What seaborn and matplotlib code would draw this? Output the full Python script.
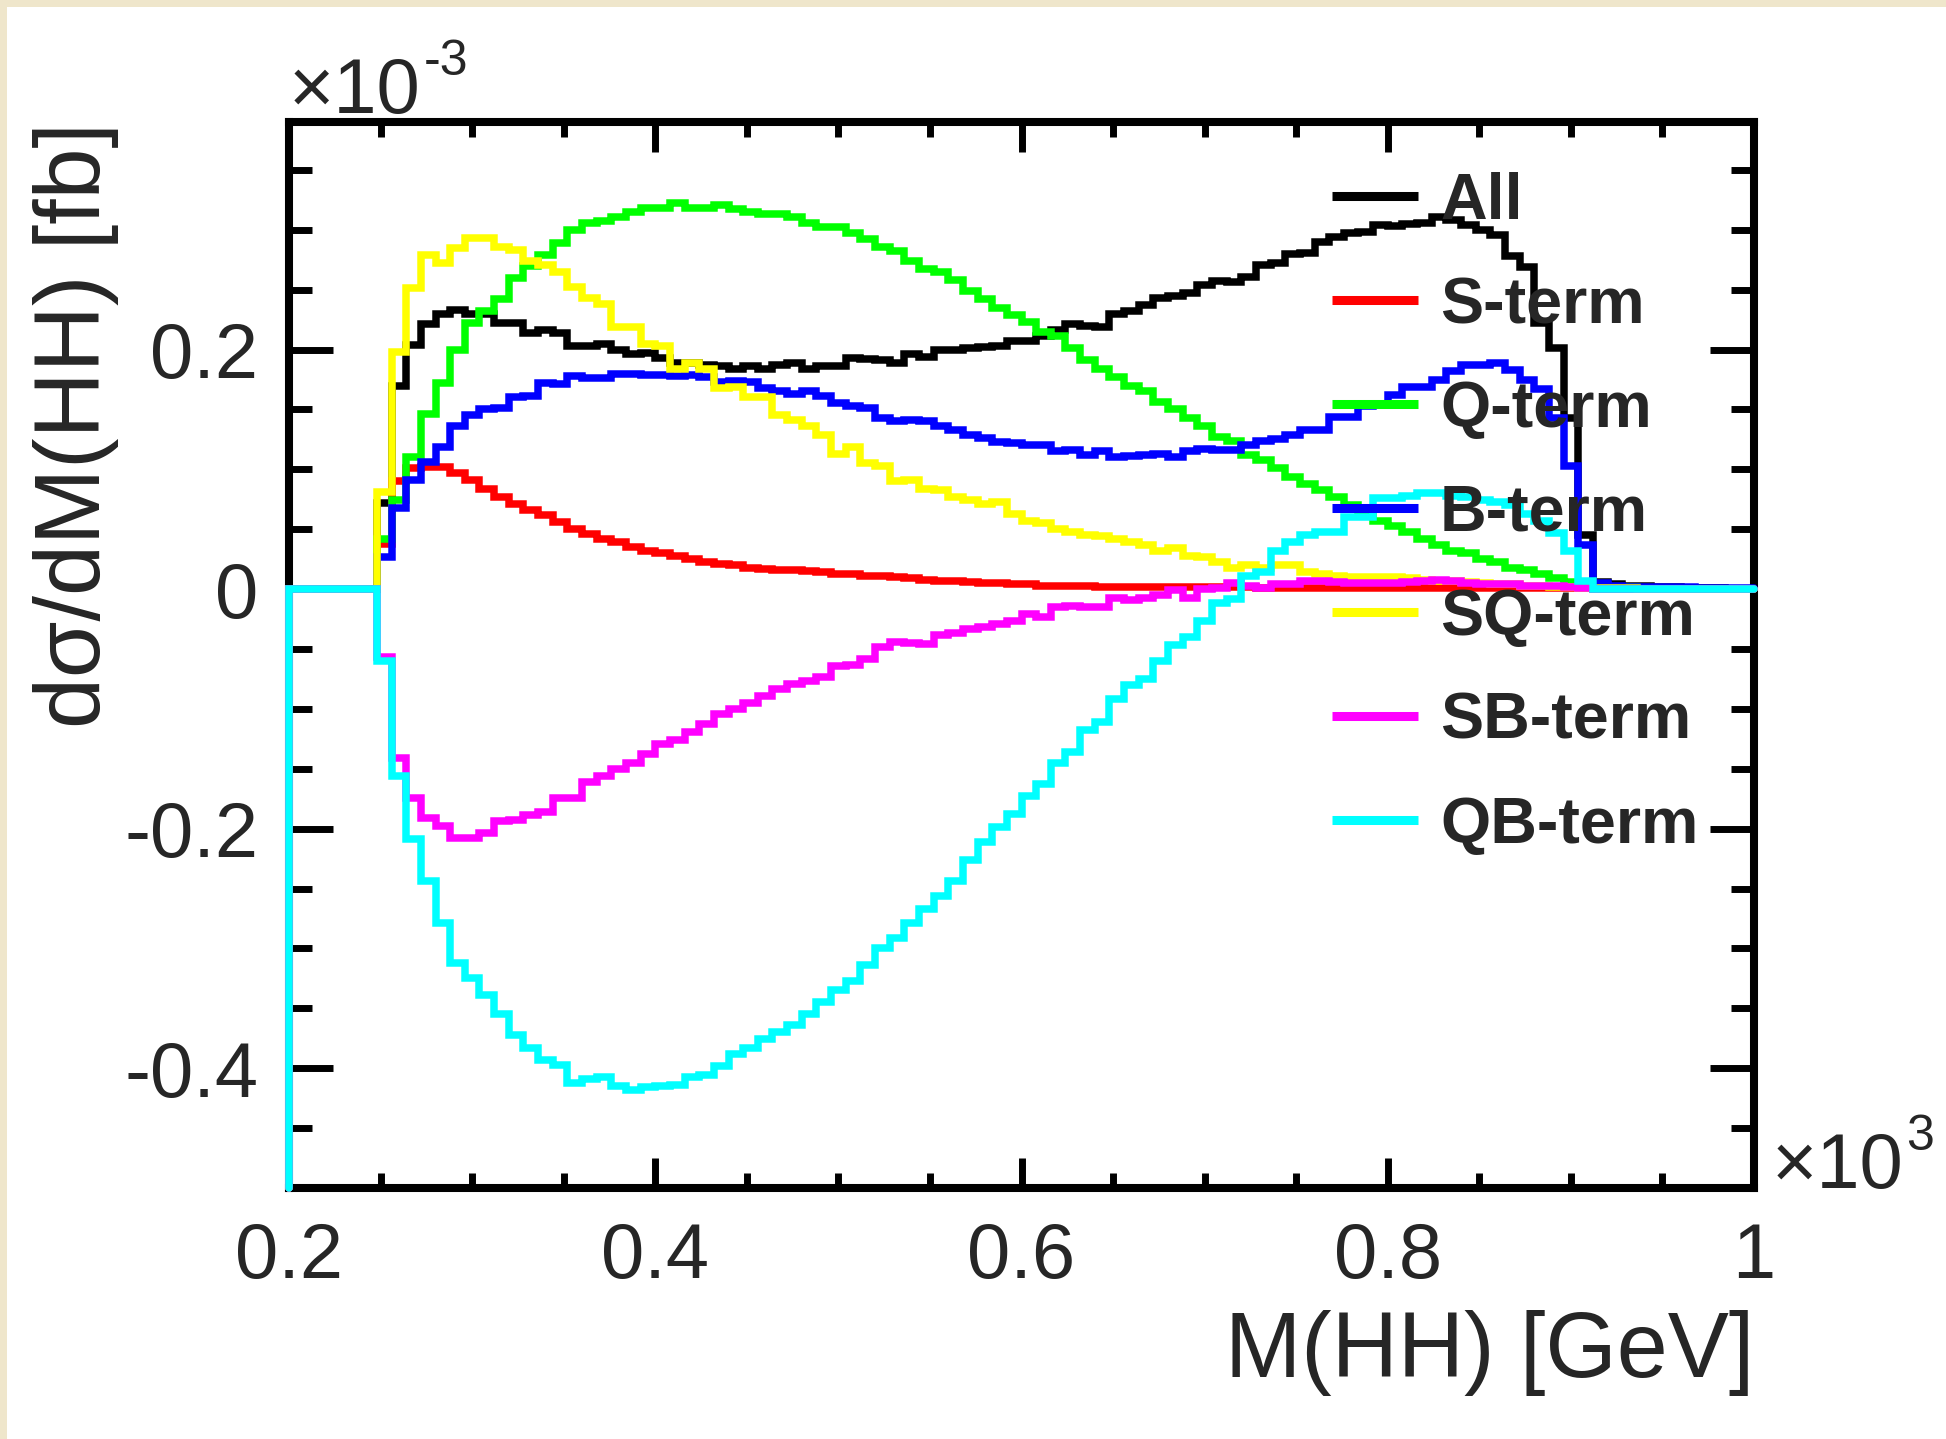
import numpy as np
import pandas as pd
import matplotlib
matplotlib.use("Agg")
import matplotlib.pyplot as plt
from matplotlib.patches import Rectangle
from matplotlib.lines import Line2D
from matplotlib.ticker import MultipleLocator, FixedLocator, FixedFormatter
import seaborn as sns

# Binning: 100 bins of 8 GeV from 200 to 1000 GeV, axis in units of 10^3 GeV
x_low, x_high, n_bins = 0.2, 1.0, 100
y_low, y_high = -0.5, 0.39

x_ticks = [0.2, 0.4, 0.6, 0.8, 1.0]
x_tick_labels = ["0.2", "0.4", "0.6", "0.8", "1"]
y_ticks = [-0.4, -0.2, 0.0, 0.2]
y_tick_labels = ["-0.4", "-0.2", "0", "0.2"]

term_names = ["All", "S-term", "Q-term", "B-term", "SQ-term", "SB-term", "QB-term"]
term_colors = ["#000000", "#ff0000", "#00ff00", "#0000ff", "#ffff00", "#ff00ff", "#00ffff"]

# dsigma/dM(HH) per bin, units of 10^-3 fb
all_term = [0, 0, 0, 0, 0, 0,
            0.072, 0.170, 0.204, 0.221, 0.230, 0.233, 0.230, 0.230, 0.222, 0.222,
            0.214, 0.216, 0.214, 0.203, 0.203, 0.205, 0.200, 0.196, 0.197, 0.193,
            0.189, 0.189, 0.187, 0.186, 0.184, 0.186, 0.184, 0.187, 0.189, 0.184,
            0.186, 0.186, 0.193, 0.192, 0.191, 0.189, 0.196, 0.194, 0.200, 0.200,
            0.201, 0.202, 0.203, 0.207, 0.207, 0.211, 0.216, 0.221, 0.220, 0.219,
            0.230, 0.232, 0.237, 0.243, 0.245, 0.247, 0.254, 0.257, 0.256, 0.261,
            0.271, 0.272, 0.280, 0.281, 0.290, 0.294, 0.297, 0.298, 0.304, 0.303,
            0.305, 0.306, 0.311, 0.308, 0.304, 0.300, 0.296, 0.278, 0.269, 0.222,
            0.201, 0.143, 0.045, 0.006, 0.004, 0.003, 0.003, 0.002, 0.002, 0.001,
            0.001, 0.001, 0.000, 0.000]

s_term = [0, 0, 0, 0, 0, 0,
          0.038, 0.090, 0.101, 0.102, 0.102, 0.097, 0.091, 0.084, 0.077, 0.071,
          0.066, 0.062, 0.056, 0.050, 0.046, 0.042, 0.039, 0.035, 0.032, 0.030,
          0.028, 0.025, 0.023, 0.021, 0.020, 0.018, 0.017, 0.016, 0.016, 0.015,
          0.014, 0.013, 0.013, 0.011, 0.011, 0.010, 0.009, 0.008, 0.007, 0.007,
          0.006, 0.005, 0.005, 0.004, 0.004, 0.003, 0.003, 0.003, 0.003, 0.002,
          0.002, 0.002, 0.002, 0.002, 0.002, 0.002, 0.002, 0.002, 0.002, 0.002,
          0.001, 0.001, 0.001, 0.001, 0.001, 0.001, 0.001, 0.001, 0.001, 0.001,
          0.001, 0.001, 0.001, 0.001, 0.001, 0.001, 0.001, 0.001, 0.001, 0.001,
          0.001, 0.001, 0.001, 0.000, 0.000, 0.000, 0.000, 0.000, 0.000, 0.000,
          0.000, 0.000, 0.000, 0.000]

q_term = [0, 0, 0, 0, 0, 0,
          0.042, 0.074, 0.110, 0.146, 0.172, 0.200, 0.222, 0.232, 0.242, 0.260,
          0.270, 0.279, 0.289, 0.300, 0.306, 0.307, 0.311, 0.315, 0.318, 0.318,
          0.322, 0.318, 0.318, 0.321, 0.317, 0.315, 0.313, 0.313, 0.311, 0.306,
          0.302, 0.302, 0.297, 0.292, 0.286, 0.282, 0.274, 0.267, 0.265, 0.258,
          0.249, 0.242, 0.235, 0.229, 0.223, 0.215, 0.211, 0.201, 0.191, 0.184,
          0.177, 0.170, 0.165, 0.156, 0.150, 0.143, 0.136, 0.127, 0.124, 0.112,
          0.108, 0.101, 0.094, 0.088, 0.083, 0.077, 0.070, 0.063, 0.057, 0.053,
          0.048, 0.042, 0.037, 0.032, 0.030, 0.025, 0.023, 0.018, 0.016, 0.013,
          0.009, 0.006, 0.004, 0.003, 0.002, 0.002, 0.001, 0.001, 0.001, 0.000,
          0.000, 0.000, 0.000, 0.000]

b_term = [0, 0, 0, 0, 0, 0,
          0.027, 0.068, 0.091, 0.106, 0.119, 0.136, 0.145, 0.150, 0.151, 0.160,
          0.161, 0.172, 0.171, 0.178, 0.176, 0.176, 0.180, 0.180, 0.179, 0.179,
          0.178, 0.179, 0.177, 0.173, 0.174, 0.173, 0.168, 0.165, 0.163, 0.165,
          0.161, 0.155, 0.153, 0.151, 0.143, 0.140, 0.141, 0.140, 0.136, 0.133,
          0.129, 0.126, 0.123, 0.122, 0.120, 0.120, 0.115, 0.116, 0.112, 0.115,
          0.110, 0.111, 0.112, 0.113, 0.110, 0.115, 0.117, 0.116, 0.116, 0.120,
          0.124, 0.125, 0.129, 0.133, 0.133, 0.144, 0.144, 0.153, 0.154, 0.162,
          0.169, 0.169, 0.175, 0.182, 0.187, 0.187, 0.189, 0.183, 0.175, 0.167,
          0.143, 0.103, 0.037, 0.005, 0.003, 0.002, 0.002, 0.002, 0.002, 0.002,
          0.001, 0.001, 0.001, 0.001]

sq_term = [0, 0, 0, 0, 0, 0,
           0.081, 0.198, 0.251, 0.279, 0.272, 0.285, 0.293, 0.293, 0.286, 0.283,
           0.274, 0.271, 0.265, 0.252, 0.243, 0.238, 0.219, 0.219, 0.205, 0.203,
           0.184, 0.189, 0.184, 0.168, 0.169, 0.160, 0.160, 0.145, 0.141, 0.136,
           0.129, 0.113, 0.119, 0.105, 0.103, 0.090, 0.091, 0.084, 0.083, 0.077,
           0.074, 0.071, 0.073, 0.063, 0.057, 0.055, 0.050, 0.048, 0.045, 0.044,
           0.042, 0.039, 0.037, 0.032, 0.034, 0.028, 0.027, 0.023, 0.018, 0.020,
           0.018, 0.020, 0.020, 0.014, 0.013, 0.011, 0.010, 0.010, 0.010, 0.010,
           0.009, 0.008, 0.007, 0.007, 0.006, 0.005, 0.004, 0.004, 0.003, 0.003,
           0.002, 0.002, 0.001, 0.001, 0.001, 0.001, 0.000, 0.000, 0.000, 0.000,
           0.000, 0.000, 0.000, 0.000]

sb_term = [0, 0, 0, 0, 0, 0,
           -0.057, -0.141, -0.174, -0.191, -0.198, -0.208, -0.208, -0.204, -0.194, -0.193,
           -0.189, -0.186, -0.174, -0.174, -0.161, -0.156, -0.150, -0.145, -0.138, -0.129,
           -0.126, -0.119, -0.113, -0.104, -0.100, -0.095, -0.089, -0.083, -0.079, -0.077,
           -0.073, -0.064, -0.063, -0.058, -0.048, -0.044, -0.045, -0.046, -0.038, -0.037,
           -0.033, -0.032, -0.029, -0.027, -0.021, -0.023, -0.015, -0.014, -0.015, -0.015,
           -0.007, -0.009, -0.007, -0.005, -0.001, -0.007, 0.000, 0.001, 0.005, 0.003,
           0.001, 0.004, 0.004, 0.007, 0.007, 0.006, 0.005, 0.005, 0.005, 0.005,
           0.006, 0.007, 0.008, 0.007, 0.005, 0.004, 0.004, 0.004, 0.003, 0.003,
           0.003, 0.002, 0.001, 0.000, 0.000, 0.000, 0.000, 0.000, 0.000, 0.000,
           0.000, 0.000, 0.000, 0.000]

qb_term = [0, 0, 0, 0, 0, 0,
           -0.060, -0.156, -0.209, -0.244, -0.279, -0.312, -0.325, -0.339, -0.355, -0.372,
           -0.383, -0.393, -0.397, -0.412, -0.409, -0.407, -0.415, -0.418, -0.416, -0.415,
           -0.414, -0.407, -0.406, -0.398, -0.388, -0.383, -0.376, -0.370, -0.364, -0.355,
           -0.345, -0.335, -0.327, -0.314, -0.300, -0.291, -0.279, -0.267, -0.256, -0.244,
           -0.226, -0.211, -0.199, -0.188, -0.173, -0.163, -0.145, -0.136, -0.118, -0.111,
           -0.092, -0.080, -0.075, -0.060, -0.047, -0.040, -0.027, -0.012, -0.008, 0.011,
           0.014, 0.032, 0.039, 0.045, 0.048, 0.048, 0.060, 0.060, 0.076, 0.076,
           0.078, 0.080, 0.080, 0.078, 0.077, 0.074, 0.073, 0.070, 0.063, 0.057,
           0.047, 0.032, 0.007, 0.000, 0.000, 0.000, 0.000, 0.000, 0.000, 0.000,
           0.000, 0.000, 0.000, 0.000]

term_values = [all_term, s_term, q_term, b_term, sq_term, sb_term, qb_term]

# ---------------------------------------------------------------- style
sns.set_style("ticks")
plt.rcParams["font.family"] = ["Liberation Sans", "DejaVu Sans"]
plt.rcParams["axes.unicode_minus"] = False

W, H = 1946, 1439
fig = plt.figure(figsize=(W / 100, H / 100), dpi=100)
fig.patch.set_facecolor("#efe6cb")
fig.add_artist(Rectangle((7 / W, 0), 1 - 7 / W, 1 - 7 / H, transform=fig.transFigure,
                         facecolor="white", edgecolor="none", zorder=0))

ax = fig.add_axes([289 / W, 1 - 1188 / H, (1754 - 289) / W, (1188 - 122) / H])
ax.set_facecolor("white")

# ---------------------------------------------------------------- histograms
edges = np.linspace(x_low, x_high, n_bins + 1)
frames = []
for name, vals in zip(term_names, term_values):
    vals = list(vals)
    # outline starts on the frame floor, then follows the bin contents
    xs = [edges[0]] + list(edges[:-1]) + [edges[-1]]
    ys = [y_low] + vals + [vals[-1]]
    frames.append(pd.DataFrame({"x": xs, "y": ys, "term": name}))
df = pd.concat(frames, ignore_index=True)

sns.lineplot(data=df, x="x", y="y", hue="term", hue_order=term_names,
             palette=term_colors, sort=False, estimator=None, errorbar=None,
             drawstyle="steps-post", linewidth=5.4, legend=False, ax=ax,
             clip_on=False, zorder=3, solid_joinstyle="miter")

# ---------------------------------------------------------------- axes
ax.set_xlim(x_low, x_high)
ax.set_ylim(y_low, y_high)
ax.xaxis.set_major_locator(FixedLocator(x_ticks))
ax.xaxis.set_major_formatter(FixedFormatter(x_tick_labels))
ax.yaxis.set_major_locator(FixedLocator(y_ticks))
ax.yaxis.set_major_formatter(FixedFormatter(y_tick_labels))
ax.xaxis.set_minor_locator(MultipleLocator(0.05))
ax.yaxis.set_minor_locator(MultipleLocator(0.05))

for sp in ax.spines.values():
    sp.set_linewidth(5.8)
    sp.set_color("black")
    sp.set_zorder(2.6)

ax.tick_params(which="both", direction="in", top=True, right=True, width=5,
               color="black", labelsize=56)
ax.tick_params(axis="y", which="major", length=31.7, pad=22)
ax.tick_params(axis="y", which="minor", length=16.6)
ax.tick_params(axis="x", which="major", length=21.6, pad=24)
ax.tick_params(axis="x", which="minor", length=10.8)

ax.set_xlabel("M(HH) [GeV]", fontsize=66)
ax.xaxis.set_label_coords(1.0, -0.1773)
ax.xaxis.label.set_ha("right")
ax.xaxis.label.set_va("baseline")

ax.set_ylabel("d\u03c3/dM(HH) [fb]", fontsize=66)
ax.yaxis.set_label_coords(-0.129, 1.0)
ax.yaxis.label.set_ha("right")
ax.yaxis.label.set_va("baseline")
ax.yaxis.label.set_rotation_mode("anchor")

# axis multipliers
ty = ax.text(0.0, 1.0084, "\u00d710", transform=ax.transAxes, fontsize=56,
             ha="left", va="baseline")
ax.annotate("-3", xy=(1, 0), xycoords=ty, xytext=(2, 39), textcoords="offset points",
            fontsize=36, ha="left", va="baseline")
tx = ax.text(1.012, 0.0, "\u00d710", transform=ax.transAxes, fontsize=56,
             ha="left", va="baseline")
ax.annotate("3", xy=(1, 0), xycoords=tx, xytext=(2, 39), textcoords="offset points",
            fontsize=36, ha="left", va="baseline")

# ---------------------------------------------------------------- legend
handles = [Line2D([], [], color=c, linewidth=6.5, solid_capstyle="butt") for c in term_colors]
leg = ax.legend(handles, term_names, loc="upper left", bbox_to_anchor=(0.712, 0.953),
                frameon=False, prop={"family": ["Liberation Sans", "DejaVu Sans"],
                                     "weight": "bold", "size": 46.5},
                handlelength=1.33, handletextpad=0.34, labelspacing=0.68,
                borderpad=0, borderaxespad=0)
leg.set_zorder(5)

fig.savefig("out.png", dpi=100, facecolor=fig.get_facecolor())
